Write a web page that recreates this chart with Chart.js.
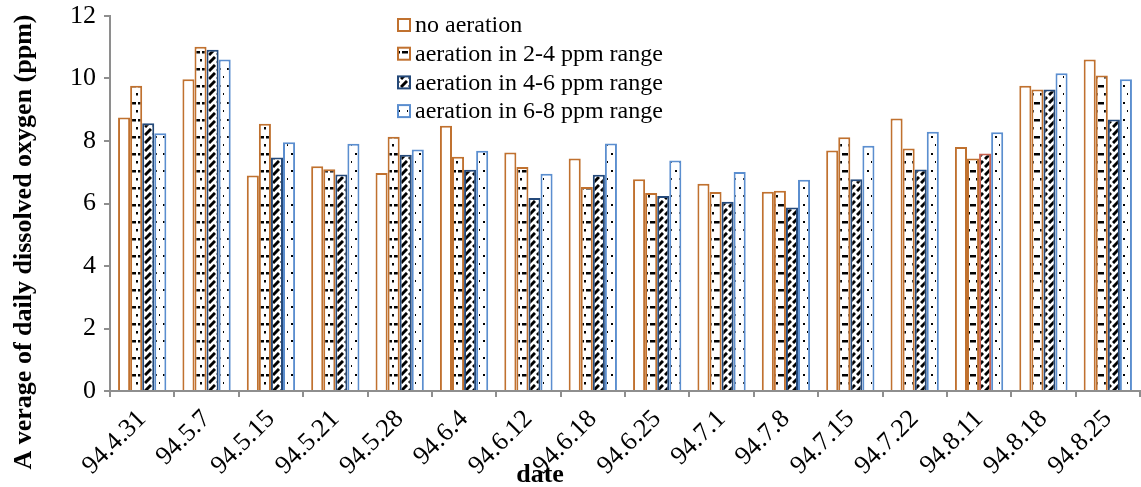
<!DOCTYPE html>
<html>
<head>
<meta charset="utf-8">
<script src="https://cdn.jsdelivr.net/npm/chart.js@4/dist/chart.umd.min.js"></script>
<style>
  html, body { margin: 0; padding: 0; background: #fff; }
  #wrap { width: 1141px; height: 487px; }
</style>
</head>
<body>
<div id="wrap"><canvas id="c" width="1141" height="487"></canvas></div>
<script>
// ---- Data ----
var DATES = ['94.4.31', '94.5.7', '94.5.15', '94.5.21', '94.5.28', '94.6.4', '94.6.12', '94.6.18',
             '94.6.25', '94.7.1', '94.7.8', '94.7.15', '94.7.22', '94.8.11', '94.8.18', '94.8.25'];
var NO_AERATION = [8.75, 9.98, 6.90, 7.19, 6.98, 8.49, 7.63, 7.44, 6.78, 6.63, 6.38, 7.70, 8.72, 7.81, 9.77, 10.61];
var AER_2_4     = [9.77, 11.02, 8.55, 7.10, 8.14, 7.50, 7.17, 6.53, 6.34, 6.37, 6.41, 8.12, 7.76, 7.44, 9.65, 10.10];
var AER_4_6     = [8.57, 10.92, 7.47, 6.93, 7.56, 7.08, 6.18, 6.92, 6.24, 6.06, 5.87, 6.78, 7.09, 7.60, 9.65, 8.69];
var AER_6_8     = [8.25, 10.61, 7.96, 7.91, 7.73, 7.69, 6.95, 7.92, 7.38, 7.01, 6.76, 7.85, 8.30, 8.28, 10.17, 9.98];
var SERIES_NAMES = ['no aeration', 'aeration in 2-4 ppm range', 'aeration in 4-6 ppm range', 'aeration in 6-8 ppm range'];
var Y_MIN = 0, Y_MAX = 12, Y_STEP = 2;

var ORANGE = '#c0712f', DARK_BLUE = '#24497a', LIGHT_BLUE = '#5b8ecf', AXIS = '#8e8e8e';
var SERIF = '"Liberation Serif", "Times New Roman", serif';

// ---- Fill patterns (Excel-like) ----
function makeTile(w, h, draw) {
  var t = document.createElement('canvas');
  t.width = w; t.height = h;
  var x = t.getContext('2d');
  x.fillStyle = '#fff'; x.fillRect(0, 0, w, h);
  x.fillStyle = '#000'; x.strokeStyle = '#000';
  draw(x);
  return x.createPattern(t, 'repeat');
}
var PAT_DASH = makeTile(8, 17, function (x) { x.fillRect(2, 0, 6, 2.5); x.fillRect(0, 8, 2, 2.5); });
var PAT_DIAG = makeTile(8, 8, function (x) {
  x.lineWidth = 3; x.lineCap = 'butt';
  x.beginPath(); x.moveTo(1, 7); x.lineTo(7, 1); x.stroke();
});
var PAT_DOT = makeTile(8, 17, function (x) { x.fillRect(3, 0, 2, 2); x.fillRect(7, 8, 1, 2); });

// one odd bar (94.8.11, 4-6 ppm) has a reddish outline in the original
var border46 = DATES.map(function (d) { return d === '94.8.11' ? '#c9614f' : DARK_BLUE; });

var FILLS = ['#fff', PAT_DASH, PAT_DIAG, PAT_DOT];
var BORDERS = [ORANGE, ORANGE, DARK_BLUE, LIGHT_BLUE];

// ---- Custom legend + axis titles ----
var decor = {
  id: 'decor',
  afterDraw: function (chart) {
    var ctx = chart.ctx;
    ctx.save();
    // legend inside the plot
    ctx.font = '24px ' + SERIF;
    ctx.textBaseline = 'middle';
    SERIES_NAMES.forEach(function (name, i) {
      var y = 25 + i * 28.7;
      ctx.fillStyle = FILLS[i];
      ctx.fillRect(398, y - 6, 12, 12);
      ctx.strokeStyle = BORDERS[i]; ctx.lineWidth = 2;
      ctx.strokeRect(398, y - 6, 12, 12);
      ctx.fillStyle = '#000';
      ctx.fillText(name, 415, y + 1);
    });
    // axis titles
    ctx.font = 'bold 26px ' + SERIF;
    ctx.textAlign = 'center';
    ctx.textBaseline = 'alphabetic';
    ctx.fillText('date', 540, 482);
    ctx.translate(31, 242);
    ctx.rotate(-Math.PI / 2);
    ctx.font = 'bold 26px ' + SERIF;
    ctx.fillText('A verage of daily dissolved oxygen (ppm)', 0, 0);
    ctx.restore();
  }
};

new Chart(document.getElementById('c'), {
  type: 'bar',
  data: {
    labels: DATES,
    datasets: [
      { label: SERIES_NAMES[0], data: NO_AERATION, backgroundColor: FILLS[0], borderColor: ORANGE, borderWidth: 2 },
      { label: SERIES_NAMES[1], data: AER_2_4, backgroundColor: FILLS[1], borderColor: ORANGE, borderWidth: 2 },
      { label: SERIES_NAMES[2], data: AER_4_6, backgroundColor: FILLS[2], borderColor: border46, borderWidth: 2 },
      { label: SERIES_NAMES[3], data: AER_6_8, backgroundColor: FILLS[3], borderColor: LIGHT_BLUE, borderWidth: 2 }
    ]
  },
  options: {
    responsive: false,
    animation: false,
    layout: { padding: { top: 16, right: 1, left: 0, bottom: 0 } },
    datasets: { bar: { categoryPercentage: 0.75, barPercentage: 1, borderSkipped: 'bottom' } },
    plugins: { legend: { display: false }, tooltip: { enabled: false } },
    scales: {
      x: {
        grid: { display: true, drawOnChartArea: false, drawTicks: true, tickLength: 6, color: AXIS, lineWidth: 2, offset: true },
        border: { color: AXIS, width: 2 },
        ticks: { color: '#000', font: { family: SERIF, size: 26 }, minRotation: 45, maxRotation: 45, autoSkip: false, padding: 7 },
        afterFit: function (s) { s.height = 96; s.paddingLeft = 0; s.paddingRight = 0; }
      },
      y: {
        min: Y_MIN, max: Y_MAX,
        grid: { display: true, drawOnChartArea: false, drawTicks: true, tickLength: 6, color: AXIS, lineWidth: 2 },
        border: { color: AXIS, width: 2 },
        ticks: { stepSize: Y_STEP, color: '#000', font: { family: SERIF, size: 26 }, padding: 8 },
        afterFit: function (s) { s.width = 110; s.paddingTop = 0; s.paddingBottom = 0; }
      }
    }
  },
  plugins: [decor]
});
</script>
</body>
</html>
